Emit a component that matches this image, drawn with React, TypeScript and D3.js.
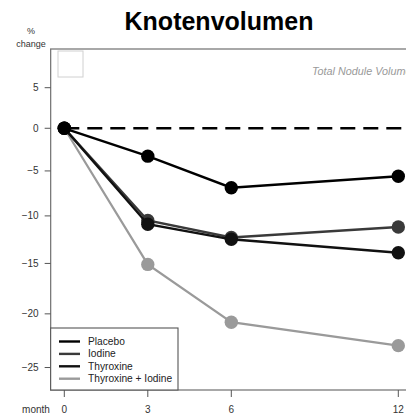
import * as d3 from "d3";
import { useRef, useEffect } from "react";

const months = [0, 3, 6, 12];
const seriesNames = ["Placebo", "Iodine", "Thyroxine", "Thyroxine + Iodine"];
const placebo = [0, -3.3, -6.9, -5.6];
const iodine = [0, -10.5, -12.3, -11.2];
const thyroxine = [0, -10.9, -12.5, -13.9];
const thyroxineIodine = [0, -15.1, -20.8, -23.0];
const yTicks = [5, 0, -5, -10, -15, -20, -25];
const colors = ["#000000", "#3a3a3a", "#111111", "#9a9a9a"];

const FONT = "'Liberation Sans', Arial, Helvetica, sans-serif";

const App = () => {
    const ref = useRef<HTMLDivElement>(null);

    useEffect(() => {
        const W = 406;
        const H = 414;
        d3.select(ref.current).select("svg").remove();

        const svg = d3.select(ref.current)
            .append("svg")
            .attr("width", W)
            .attr("height", H)
            .style("display", "block")
            .style("background", "#fff");

        // month axis is linear, % change is drawn on a log scale of (100 + value)
        const x = d3.scaleLinear().domain([0, 12]).range([64.3, 398.3]);
        const y = d3.scaleLog().domain([73, 110]).range([390, 49]);
        const yv = (v: number) => y(100 + v);

        const left = x(-0.49);
        const top = y(110);
        const bottom = y(73);

        // title
        svg.append("text")
            .attr("x", 219)
            .attr("y", 30)
            .attr("text-anchor", "middle")
            .attr("font-family", FONT)
            .attr("font-weight", "bold")
            .attr("font-size", 25)
            .text("Knotenvolumen");

        svg.append("text")
            .attr("x", 31).attr("y", 34)
            .attr("text-anchor", "middle")
            .attr("font-family", FONT).attr("font-size", 9).attr("fill", "#333")
            .text("%");
        svg.append("text")
            .attr("x", 31).attr("y", 47)
            .attr("text-anchor", "middle")
            .attr("font-family", FONT).attr("font-size", 9).attr("fill", "#333")
            .text("change");

        // plot box (right side runs off the page)
        svg.append("rect")
            .attr("x", left).attr("y", top)
            .attr("width", 420 - left).attr("height", bottom - top)
            .attr("fill", "none").attr("stroke", "#7a7a7a").attr("stroke-width", 1.3);

        svg.append("rect")
            .attr("x", 58).attr("y", 51).attr("width", 25).attr("height", 26)
            .attr("fill", "none").attr("stroke", "#d0d0d0").attr("stroke-width", 1);

        svg.append("text")
            .attr("x", 312).attr("y", 75)
            .attr("font-family", FONT).attr("font-size", 10.8)
            .attr("font-style", "italic").attr("fill", "#999")
            .text("Total Nodule Volume");

        // y axis
        const yAxis = svg.append("g");
        yTicks.forEach(t => {
            yAxis.append("line")
                .attr("x1", left - 6).attr("x2", left)
                .attr("y1", yv(t)).attr("y2", yv(t))
                .attr("stroke", "#555").attr("stroke-width", 1);
            yAxis.append("text")
                .attr("x", left - 12).attr("y", yv(t))
                .attr("dy", "0.35em")
                .attr("text-anchor", "end")
                .attr("font-family", FONT).attr("font-size", 10).attr("fill", "#333")
                .text(t < 0 ? "\u2212" + Math.abs(t) : String(t));
        });

        // x axis
        const xAxis = svg.append("g");
        months.forEach(m => {
            xAxis.append("line")
                .attr("x1", x(m)).attr("x2", x(m))
                .attr("y1", bottom).attr("y2", bottom + 7)
                .attr("stroke", "#555").attr("stroke-width", 1);
            xAxis.append("text")
                .attr("x", x(m)).attr("y", 409)
                .attr("dy", "0.35em")
                .attr("text-anchor", "middle")
                .attr("font-family", FONT).attr("font-size", 10).attr("fill", "#333")
                .text(String(m));
        });
        xAxis.append("text")
            .attr("x", 36).attr("y", 409).attr("dy", "0.35em")
            .attr("text-anchor", "middle")
            .attr("font-family", FONT).attr("font-size", 10).attr("fill", "#333")
            .text("month");

        // reference line at 0
        svg.append("line")
            .attr("x1", x(0)).attr("x2", 420)
            .attr("y1", yv(0)).attr("y2", yv(0))
            .attr("stroke", "#000").attr("stroke-width", 2.6)
            .attr("stroke-dasharray", "15 8");

        const allSeries = [placebo, iodine, thyroxine, thyroxineIodine];
        const widths = [2.4, 2.4, 2.4, 2.2];
        const line = d3.line<number>()
            .x((_, i) => x(months[i]))
            .y(d => yv(d));

        // draw from last to first so the black series sit on top
        [3, 1, 2, 0].forEach(s => {
            svg.append("path")
                .datum(allSeries[s])
                .attr("fill", "none")
                .attr("stroke", colors[s])
                .attr("stroke-width", widths[s])
                .attr("d", line);
            svg.selectAll(null)
                .data(allSeries[s])
                .enter()
                .append("circle")
                .attr("cx", (_, i) => x(months[i]))
                .attr("cy", d => yv(d))
                .attr("r", 6.7)
                .attr("fill", colors[s]);
        });

        // legend
        const lgTop = 328;
        svg.append("rect")
            .attr("x", left).attr("y", lgTop)
            .attr("width", 178 - left).attr("height", bottom - lgTop)
            .attr("fill", "#fff").attr("stroke", "#555").attr("stroke-width", 1.1);
        seriesNames.forEach((name, i) => {
            const ly = 341.5 + i * 12.4;
            svg.append("line")
                .attr("x1", 59).attr("x2", 80)
                .attr("y1", ly).attr("y2", ly)
                .attr("stroke", colors[i]).attr("stroke-width", 2.4);
            svg.append("text")
                .attr("x", 88).attr("y", ly).attr("dy", "0.35em")
                .attr("font-family", FONT).attr("font-size", 10.2).attr("fill", "#222")
                .text(name);
        });

        return () => {
            d3.select(ref.current).select("svg").remove();
        };
    }, []);

    return (
        <div ref={ref} style={{ position: "absolute", left: 0, top: 0, width: 406, height: 414, overflow: "hidden" }}></div>
    );
};

export default App;
